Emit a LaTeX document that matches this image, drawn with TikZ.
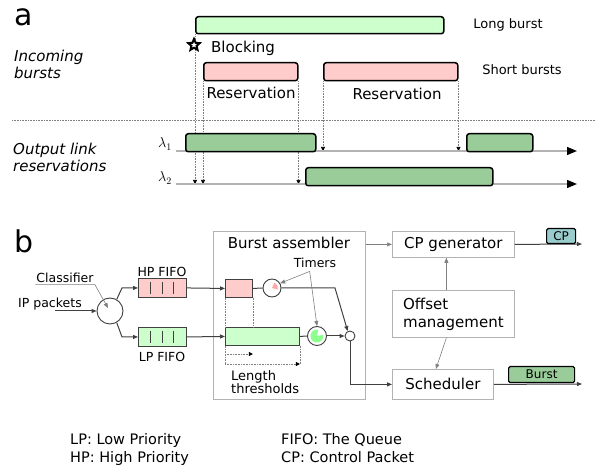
\documentclass[tikz,border=0pt]{standalone}
\usepackage{fontspec}
\setmainfont{DejaVu Sans}
\usetikzlibrary{arrows.meta,shapes.geometric}

\definecolor{lgreen}{HTML}{CCFFCC}
\definecolor{lpink}{HTML}{FFCCCC}
\definecolor{dgreen}{HTML}{99CC99}
\definecolor{cptag}{HTML}{99CCCC}

\begin{document}
\begin{tikzpicture}[x=1pt,y=-1pt,
  burst/.style={draw,line width=1.5pt,rounded corners=2.5pt,anchor=north west,inner sep=0pt},
  tag/.style={draw,line width=1.2pt,rounded corners=1.5pt,anchor=north west,inner sep=0pt,font=\fontsize{12}{14}\selectfont},
  guide/.style={gray,densely dotted,line width=0.6pt},
  tick/.style={-{Triangle[length=4pt,width=4pt,color=black]}},
  lane/.style={gray!60,line width=1.3pt,-{Triangle[length=10pt,width=8pt,color=black]}},
  block/.style={draw=gray!60,line width=0.8pt,anchor=north west,inner sep=0pt,font=\fontsize{15}{18}\selectfont},
  fifo/.style={draw=black!75,line width=0.9pt,anchor=north west,inner sep=0pt},
  wire/.style={black!75,line width=1pt},
  wirearrow/.style={wire,-{Triangle[length=5pt,width=4pt]}},
  pointer/.style={gray,line width=0.6pt,-{Triangle[length=5pt,width=4pt]}},
  timer/.style={circle,draw=black!75,line width=0.9pt,inner sep=0pt,fill=white},
  big/.style={font=\fontsize{15}{17}\selectfont,inner sep=0pt},
  mid/.style={font=\fontsize{13}{15}\selectfont,inner sep=0pt},
  small/.style={font=\fontsize{12.5}{15}\selectfont,inner sep=0pt},
  legend/.style={font=\fontsize{14.5}{17}\selectfont,inner sep=0pt,anchor=base west},
  panel/.style={font=\fontsize{30}{32}\selectfont,inner sep=0pt,anchor=base west}
]

\useasboundingbox (0,0) rectangle (595,470);

\node[panel] (pa) at (14,26) {a};
\node[big,anchor=north west,align=left] (inlbl) at (14,50) {\itshape Incoming\\\itshape bursts};
\node[big,anchor=north west,align=left] (outlbl) at (13,143) {\itshape Output link\\\itshape reservations};

\coordinate (sepl) at (12,120);
\coordinate (sepr) at (595,120);
\draw[guide] (sepl) -- (sepr);

\node[burst,fill=lgreen,minimum width=248pt,minimum height=17pt] (longb) at (195,16) {};
\node[burst,fill=lpink,minimum width=94pt,minimum height=18pt] (short1) at (203,62) {};
\node[burst,fill=lpink,minimum width=134pt,minimum height=18pt] (short2) at (323,62) {};

\coordinate (l1s) at (176,151);
\coordinate (l1e) at (577,151);
\coordinate (l2s) at (176,184);
\coordinate (l2e) at (577,184);

\draw[guide,tick] (longb.south west) -- (longb.south west |- l2s);
\draw[guide,tick] (short1.south west) -- (short1.south west |- l2s);
\draw[guide,tick] (short1.south east) -- (short1.south east |- l2s);
\draw[guide,tick] (short2.south west) -- (short2.south west |- l1s);
\draw[guide,tick] (short2.south east) -- (short2.south east |- l1s);

\draw[lane] (l1s) -- (l1e);
\draw[lane] (l2s) -- (l2e);

\node[burst,fill=dgreen,minimum width=130pt,minimum height=18pt] (out1) at (185,133) {};
\node[burst,fill=dgreen,minimum width=66pt,minimum height=18pt] (out2) at (466,133) {};
\node[burst,fill=dgreen,minimum width=187pt,minimum height=18pt] (out3) at (305,167) {};

\node[star,star points=5,star point ratio=2.2,draw,line width=2pt,fill=white,minimum size=12pt,inner sep=0pt] (blkstar) at (194,45) {};
\node[big,anchor=base west] (blocklbl) at (211,53) {Blocking};
\node[big,anchor=base] (res1) at (251,99) {Reservation};
\node[big,anchor=base] (res2) at (397,100) {Reservation};
\node[mid,anchor=base] (longlbl) at (508,29) {Long burst};
\node[mid,anchor=base] (shortlbl) at (522,75) {Short bursts};
\node[font=\fontsize{14}{16}\selectfont,anchor=base east,inner sep=0pt] (lam1) at (172,148) {$\lambda_1$};
\node[font=\fontsize{14}{16}\selectfont,anchor=base east,inner sep=0pt] (lam2) at (172,182) {$\lambda_2$};

\node[panel] (pb) at (14,253) {b};

\node[small,anchor=base,inner sep=1pt] (clslbl) at (65,283) {Classifier};
\node[small,anchor=base west] (iplbl) at (18,308) {IP packets};
\node[timer,minimum size=26pt] (cls) at (110,311) {};
\coordinate (ipin) at (55,311);
\draw[wirearrow] (ipin) -- (cls.west);
\draw[pointer] (clslbl.south west) -- (clslbl.south east) -- ([shift={(-2pt,3pt)}]cls.center);

\node[fifo,fill=lpink,minimum width=48pt,minimum height=19pt] (hpq) at (138,278) {};
\node[fifo,fill=lgreen,minimum width=48pt,minimum height=19pt] (lpq) at (138,327) {};
\foreach \q in {hpq,lpq}
  \foreach \dx in {12,24,35}
    \draw[wire] ([xshift=\dx pt,yshift=-4pt]\q.north west) -- ([xshift=\dx pt,yshift=4pt]\q.south west);
\node[small,anchor=base] (hplbl) at (162,277) {HP FIFO};
\node[small,anchor=base] (lplbl) at (162,362) {LP FIFO};
\draw[wirearrow] (cls.60) -- ([xshift=-16pt]hpq.west) -- (hpq.west);
\draw[wirearrow] (cls.-60) -- ([xshift=-16pt]lpq.west) -- (lpq.west);

\node[block,minimum width=152pt,minimum height=168pt] (asm) at (213,231) {};
\node[big,anchor=base] (asmlbl) at (289,249) {Burst assembler};

\node[fifo,fill=lpink,minimum width=27pt,minimum height=18pt] (hpbuf) at (225,279) {};
\node[fifo,fill=lgreen,minimum width=74pt,minimum height=18pt] (lpbuf) at (225,327) {};
\draw[wirearrow] (hpq.east) -- (hpbuf.west);
\draw[wirearrow] (lpq.east) -- (lpbuf.west);

\node[timer,minimum size=18pt] (t1) at (272,288) {};
\fill[red!35] (t1.center) -- ++(65:6pt) arc[start angle=65,end angle=-15,radius=6pt] -- cycle;
\node[timer,minimum size=19pt] (t2) at (317,336) {};
\fill[green!45] (t2.center) -- ++(80:6.5pt) arc[start angle=80,end angle=370,radius=6.5pt] -- cycle;
\node[timer,minimum size=10pt] (merge) at (350,336) {};
\coordinate (bend) at (335,288);

\draw[wire] (hpbuf.east) -- (t1.west);
\draw[wirearrow] (t1.east) -- (bend) -- (merge.115);
\draw[wire] (lpbuf.east) -- (t2.west);
\draw[wirearrow] (t2.east) -- (merge.west);

\node[small,anchor=base] (tmrlbl) at (315,268) {Timers};
\draw[pointer] ([xshift=16pt,yshift=-3pt]tmrlbl.south west) -- (t1.30);
\draw[pointer] ([xshift=16pt,yshift=-3pt]tmrlbl.south west) -- (t2.north);

\coordinate (th1) at (225,354);
\coordinate (th2) at (225,364);
\draw[guide] (hpbuf.south west) -- (lpbuf.north west);
\draw[guide] (hpbuf.south east) -- (hpbuf.south east |- lpbuf.north);
\draw[guide] (lpbuf.south west) -- (th2);
\draw[guide] (lpbuf.south east) -- (th2 -| lpbuf.east);
\draw[guide,tick] (th1) -- (th1 -| hpbuf.east);
\draw[guide,tick] (th2) -- (th2 -| lpbuf.east);
\node[mid,anchor=north west,align=left,font=\fontsize{13}{13}\selectfont] (thrlbl) at (231,370) {Length\\thresholds};

\node[block,minimum width=122pt,minimum height=26pt] (cpgen) at (392,231) {CP generator};
\node[block,minimum width=122pt,minimum height=47pt,align=left] (offset) at (392,290) {Offset\\management};
\node[block,minimum width=101pt,minimum height=30pt] (sched) at (392,369) {Scheduler};

\draw[pointer] (asm.east |- cpgen.west) -- (cpgen.west);
\draw[pointer] ([xshift=-7pt]offset.north) -- ([xshift=-7pt]cpgen.south);
\draw[pointer] ([xshift=-7pt]offset.south) -- ([xshift=-7pt]sched.north);
\draw[wirearrow] (merge.south) |- (sched.west);

\coordinate (cpout) at (582,244);
\coordinate (burstout) at (582,384);
\draw[wirearrow] (cpgen.east) -- (cpout);
\draw[wirearrow] (sched.east) -- (burstout);
\node[tag,fill=cptag,minimum width=29pt,minimum height=15pt] (cptagn) at (546,228) {CP};
\node[tag,fill=dgreen,minimum width=66pt,minimum height=16pt] (bursttag) at (508,366) {Burst};

\node[legend] (leg1) at (70,445) {LP: Low Priority};
\node[legend] (leg2) at (70,463) {HP: High Priority};
\node[legend] (leg3) at (281,445) {FIFO: The Queue};
\node[legend] (leg4) at (281,463) {CP: Control Packet};

\end{tikzpicture}
\end{document}
